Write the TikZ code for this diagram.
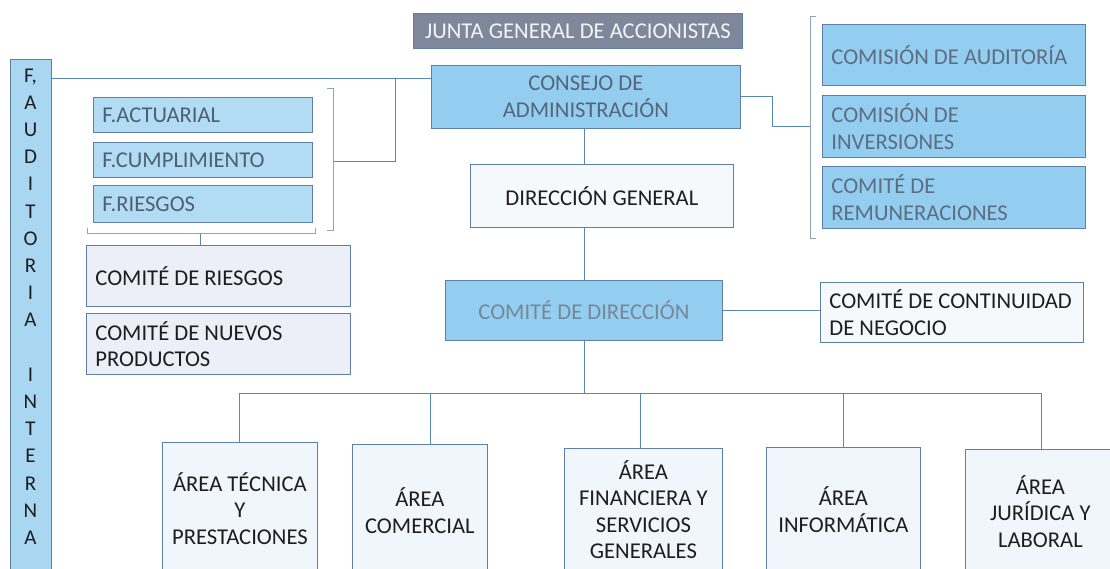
\documentclass[tikz,border=0pt]{standalone}
\usepackage{fontspec}
\setmainfont{Carlito}
\definecolor{linecol}{HTML}{5A86B4}
\definecolor{brkcol}{HTML}{8FA3BA}
\definecolor{bordercol}{HTML}{5E7FA6}
\definecolor{bluefill}{HTML}{93CEF0}
\definecolor{lightblue}{HTML}{B2DCF3}
\definecolor{audfill}{HTML}{A9D7F1}
\definecolor{palefill}{HTML}{EDEFF8}
\definecolor{areafill}{HTML}{F0F6FC}
\definecolor{dirfill}{HTML}{F6F9FC}
\definecolor{juntafill}{HTML}{7E889A}
\definecolor{juntatxt}{HTML}{F2F6FB}
\definecolor{consejotxt}{HTML}{55667A}
\definecolor{cdirtxt}{HTML}{76879A}
\definecolor{comtxt}{HTML}{5D6E83}
\definecolor{ftxt}{HTML}{4E6076}
\definecolor{darktxt}{HTML}{1E1E1E}
\begin{document}
\begin{tikzpicture}[x=1pt,y=-1pt,
  conn/.style={draw=linecol, line width=1pt},
  brk/.style={draw=brkcol, line width=0.7pt},
  boxbase/.style={draw=bordercol, line width=0.8pt, inner sep=0pt, anchor=north west,
    font=\fontsize{22.6}{26.5}\selectfont},
  bluebox/.style={boxbase, fill=bluefill},
  fbox/.style={boxbase, fill=lightblue, text=ftxt},
  palebox/.style={boxbase, fill=palefill, text=darktxt},
  areabox/.style={boxbase, fill=areafill, text=darktxt, align=center, minimum height=132pt},
  leftalign/.style={align=flush left, inner xsep=9pt}
]
\useasboundingbox (0,0) rectangle (1110,569);
\begin{scope}
\clip (0,0) rectangle (1110,569);

% top
\node[boxbase, fill=juntafill, text=juntatxt, minimum width=329pt, minimum height=35pt, align=center] (junta) at (413,13) {JUNTA GENERAL DE ACCIONISTAS};
\node[bluebox, text=consejotxt, minimum width=309pt, minimum height=63pt, align=center] (consejo) at (431,65) {CONSEJO DE\\ADMINISTRACIÓN};
\node[boxbase, fill=dirfill, text=darktxt, minimum width=263pt, minimum height=63pt, align=center] (dir) at (470,164) {DIRECCIÓN GENERAL};
\node[bluebox, text=cdirtxt, minimum width=277pt, minimum height=60pt, align=center] (cdir) at (445,280) {COMITÉ DE DIRECCIÓN};
\node[boxbase, fill=dirfill, text=darktxt, leftalign, text width=245pt, minimum height=60pt] (cont) at (820,282) {COMITÉ DE CONTINUIDAD\\DE NEGOCIO};

% auditoria interna
\node[boxbase, fill=audfill, minimum width=41pt, minimum height=530pt] (aud) at (10,59) {};
\node[anchor=north, inner sep=0pt, align=center, text=darktxt,
  font=\fontsize{21}{27.2}\selectfont] (audtxt) at (30.5,68.5)
  {F,\\A\\U\\D\\I\\T\\O\\R\\I\\A\\ \\I\\N\\T\\E\\R\\N\\A};

% functions
\node[fbox, leftalign, text width=201pt, minimum height=35pt] (fact) at (93,97) {F.ACTUARIAL};
\node[fbox, leftalign, text width=201pt, minimum height=35pt] (fcum) at (93,142) {F.CUMPLIMIENTO};
\node[fbox, leftalign, text width=201pt, minimum height=37pt] (frie) at (93,185) {F.RIESGOS};

\node[palebox, leftalign, text width=246pt, minimum height=61pt] (crie) at (86,245) {COMITÉ DE RIESGOS};
\node[palebox, leftalign, text width=246pt, minimum height=61pt] (cnue) at (86,313) {COMITÉ DE NUEVOS\\PRODUCTOS};

% comisiones
\node[bluebox, text=comtxt, leftalign, text width=245pt, minimum height=61pt] (com1) at (822,24) {COMISIÓN DE AUDITORÍA};
\node[bluebox, text=comtxt, leftalign, text width=245pt, minimum height=62pt] (com2) at (822,95) {COMISIÓN DE\\INVERSIONES};
\node[bluebox, text=comtxt, leftalign, text width=245pt, minimum height=62pt] (com3) at (822,166) {COMITÉ DE\\REMUNERACIONES};

% areas
\node[areabox, minimum width=155pt] (tec) at (162,442) {ÁREA TÉCNICA\\Y\\PRESTACIONES};
\node[areabox, minimum width=135pt] (comer) at (352,444) {ÁREA\\COMERCIAL};
\node[areabox, minimum width=158pt, minimum height=122pt] (fin) at (564,448) {ÁREA\\FINANCIERA Y\\SERVICIOS\\GENERALES};
\node[areabox, minimum width=154pt, minimum height=124pt] (inf) at (766,447) {ÁREA\\INFORMÁTICA};
\node[areabox, minimum width=150pt, minimum height=124pt] (jur) at (965,449) {ÁREA\\JURÍDICA Y\\LABORAL};

% coordinates
\coordinate (spine) at (584,0);
\coordinate (jl) at (395,79);
\coordinate (lbr) at (333,162);
\coordinate (bb) at (200,233);
\coordinate (rk) at (772,127);
\coordinate (rbr) at (810,127);
\coordinate (bus) at (0,393);
\coordinate (dcom) at (430,393);
\coordinate (dfin) at (640,393);
\coordinate (djur) at (1041,393);

% connectors
\draw[conn] (aud.east |- jl) -- (consejo.west |- jl);
\draw[conn] (jl) |- (lbr);
\draw[conn] (spine |- consejo.south) -- (spine |- dir.north);
\draw[conn] (spine |- dir.south) -- (spine |- cdir.north);
\draw[conn] (cdir.east) -- (cdir.east -| cont.west);
\draw[conn] (consejo.east) -| (rk) -- (rbr);
\draw[conn] (spine |- cdir.south) -- (spine |- bus);
\draw[conn] (tec.north |- bus) -- (djur);
\draw[conn] (tec.north |- bus) -- (tec.north);
\draw[conn] (dcom) -- (dcom |- comer.north);
\draw[conn] (dfin) -- (dfin |- fin.north);
\draw[conn] (inf.north |- bus) -- (inf.north);
\draw[conn] (djur) -- (djur |- jur.north);
\draw[conn] (bb) -- (bb |- crie.north);

% brackets
\draw[brk] (327,88) -- (333,88) -- (333,230) -- (327,230);
\draw[brk] (87,228) -- (87,233) -- (315,233) -- (315,228);
\draw[brk] (816,16) -- (810,16) -- (810,238) -- (816,238);
\end{scope}
\end{tikzpicture}
\end{document}
